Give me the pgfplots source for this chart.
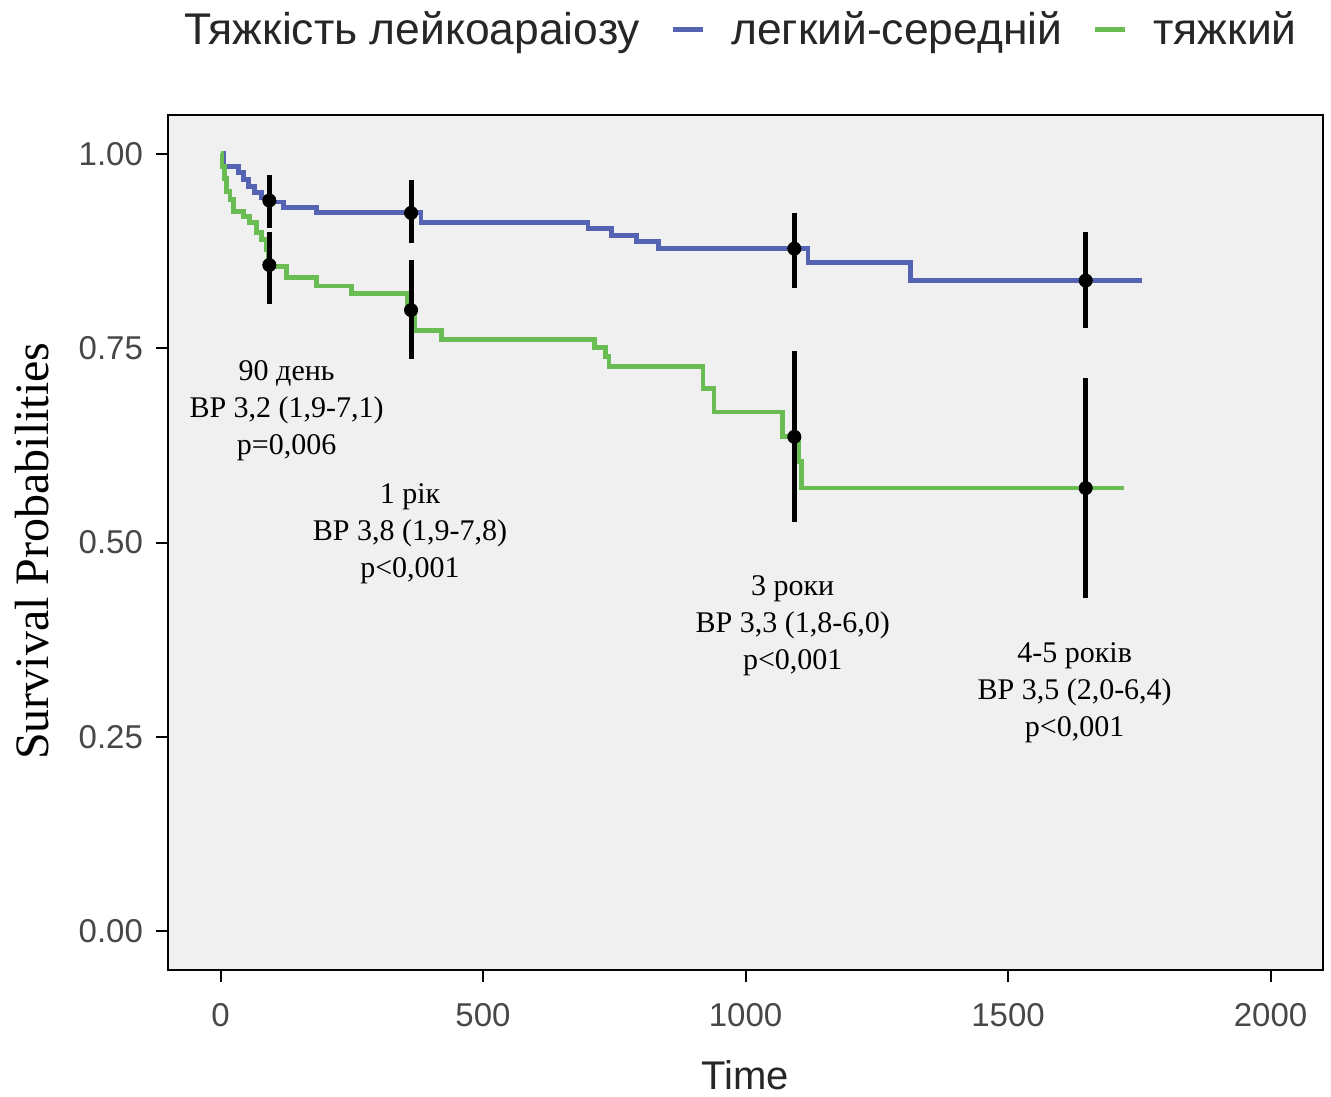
\documentclass[border=0pt]{standalone}
\usepackage{fontspec}
\setmainfont{Liberation Sans}
\newfontfamily\seriffont{Liberation Serif}
\usepackage{pgfplots}
\pgfplotsset{compat=1.18}
\definecolor{bluec}{RGB}{84,99,180}
\definecolor{greenc}{RGB}{106,189,83}
\definecolor{panel}{RGB}{240,240,240}
\begin{document}
\begin{tikzpicture}
\begin{axis}[
  width=577.5pt, height=427.5pt, scale only axis,
  xmin=-100, xmax=2100, ymin=-0.05, ymax=1.05,
  clip=false,
  axis background/.style={fill=panel},
  axis line style={black, line width=1pt},
  xtick={0,500,1000,1500,2000},
  ytick={0,0.25,0.5,0.75,1},
  yticklabels={0.00,0.25,0.50,0.75,1.00},
  tick align=outside, major tick length=6pt,
  tick style={black, line width=1pt},
  xtick pos=bottom, ytick pos=left,
  /pgf/number format/assume math mode=true,
  scaled x ticks=false,
  tick label style={font=\fontsize{16.5}{19}\selectfont, text=black!72},
  xticklabel style={/pgf/number format/1000 sep={}, yshift=-7pt},
  yticklabel style={xshift=-3pt},
  xlabel={Time}, ylabel={Survival Probabilities},
  xlabel style={font=\fontsize{20}{24}\selectfont, text=black!85, at={(axis description cs:0.5,-0.1228)}, anchor=center},
  ylabel style={font=\seriffont\fontsize{24}{28}\selectfont, at={(axis description cs:-0.1178,0.49)}, anchor=center},
  legend style={at={(axis description cs:0.9775,1.100)}, anchor=east, draw=none, fill=none,
    legend columns=-1, inner sep=0pt, font=\fontsize{22.2}{26}\selectfont, text=black!85,
    nodes={inner sep=0pt},
    /tikz/every odd column/.append style={column sep=13pt},
    /tikz/every even column/.append style={column sep=15pt}},
  legend image code/.code={\draw[#1, line width=2.6pt] (0pt,0pt) -- (15pt,0pt);},
]
\addlegendimage{empty legend}
\addlegendentry{Тяжкість лейкоараіозу}

\addplot[bluec, line width=2.4pt, const plot, mark=none] coordinates {
(0,1.000) (5,0.984) (34,0.976) (44,0.967) (53,0.958) (65,0.950) (78,0.944) (91,0.938)
(120,0.931) (183,0.925) (382,0.912) (700,0.904) (744,0.895) (792,0.887) (835,0.878)
(1119,0.860) (1315,0.837) (1756,0.837)
};
\addlegendentry{легкий-середній}

\addplot[greenc, line width=2.4pt, const plot, mark=none] coordinates {
(0,1.000) (3,0.984) (7,0.968) (12,0.952) (18,0.941) (24,0.926) (44,0.919) (55,0.912)
(69,0.899) (78,0.890) (88,0.877) (91,0.865) (94,0.855) (126,0.841) (183,0.830)
(249,0.820) (356,0.808) (363,0.798) (370,0.773) (421,0.761) (712,0.751) (734,0.739)
(740,0.726) (919,0.698) (940,0.668) (1071,0.636) (1102,0.604) (1106,0.570) (1720,0.570)
};
\addlegendentry{тяжкий}

\addplot[forget plot, only marks, mark=*, mark size=3.3pt, black,
  error bars/.cd, y dir=both, y explicit, error mark=none,
  error bar style={line width=2.5pt, black}] coordinates {
(93,0.940) += (0,0.033) -= (0,0.035)
(363,0.924) += (0,0.043) -= (0,0.039)
(1093,0.878) += (0,0.046) -= (0,0.050)
(1648,0.837) += (0,0.063) -= (0,0.061)
(93,0.857) += (0,0.043) -= (0,0.050)
(363,0.799) += (0,0.065) -= (0,0.063)
(1093,0.636) += (0,0.110) -= (0,0.110)
(1648,0.570) += (0,0.142) -= (0,0.141)
};

\node[align=center, font=\seriffont\fontsize{15}{18.5}\selectfont] at (axis cs:126,0.670) {90 день\\ВР 3,2 (1,9-7,1)\\p=0,006};
\node[align=center, font=\seriffont\fontsize{15}{18.5}\selectfont] at (axis cs:361,0.511) {1 рік\\ВР 3,8 (1,9-7,8)\\p<0,001};
\node[align=center, font=\seriffont\fontsize{15}{18.5}\selectfont] at (axis cs:1090,0.393) {3 роки\\ВР 3,3 (1,8-6,0)\\p<0,001};
\node[align=center, font=\seriffont\fontsize{15}{18.5}\selectfont] at (axis cs:1627,0.307) {4-5 років\\ВР 3,5 (2,0-6,4)\\p<0,001};

\coordinate (bl) at (rel axis cs:0,0);
\coordinate (tr) at (rel axis cs:1,1);
\end{axis}
\path ([shift={(-84pt,-62.5pt)}]bl) rectangle ([shift={(4pt,57.5pt)}]tr);
\end{tikzpicture}
\end{document}
